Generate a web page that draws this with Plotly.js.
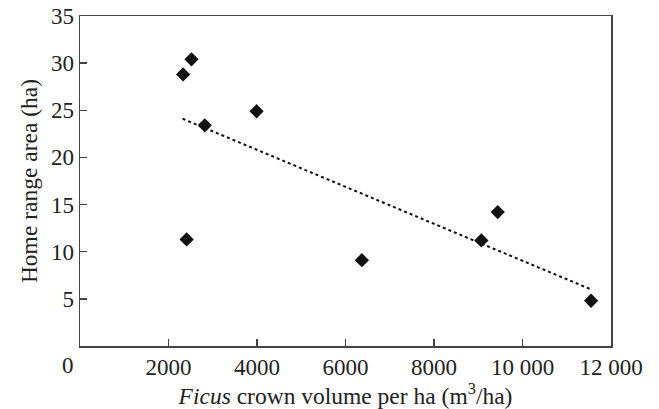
<!DOCTYPE html>
<html>
<head>
<meta charset="utf-8">
<script src="https://cdn.plot.ly/plotly-3.0.1.min.js"></script>
<style>html,body{margin:0;padding:0;background:#fff;}#chart{width:659px;height:409px;}</style>
</head>
<body>
<div id="chart"></div>
<script>
// Ficus crown volume per ha (m3/ha)
const crownVolume = [2330, 2520, 2820, 3990, 2410, 6370, 9070, 9440, 11550];
// Home range area (ha)
const homeRange = [28.8, 30.4, 23.4, 24.9, 11.3, 9.1, 11.2, 14.2, 4.8];
// Trend line endpoints
const trendX = [2320, 11550];
const trendY = [24.1, 6.0];
const xTickVals = [2000, 4000, 6000, 8000, 10000, 12000];
const xTickText = ['2000', '4000', '6000', '8000', '10 000', '12 000'];
const yTickVals = [5, 10, 15, 20, 25, 30, 35];
const yTickText = ['5', '10', '15', '20', '25', '30', '35'];

const FONT = 'Liberation Serif, Times New Roman, serif';
const axisColor = '#444';
const TICK_SIZE = 23;
const TITLE_SIZE = 23.5;

const traces = [
  {
    x: trendX, y: trendY, mode: 'lines', type: 'scatter',
    line: {color: '#111', width: 2, dash: 'dot'}, hoverinfo: 'skip', showlegend: false
  },
  {
    x: crownVolume, y: homeRange, mode: 'markers', type: 'scatter',
    marker: {symbol: 'diamond', size: 11, color: '#111'}, showlegend: false
  }
];

const layout = {
  width: 659, height: 409,
  margin: {l: 80, r: 48, t: 16, b: 63},
  paper_bgcolor: '#fff', plot_bgcolor: '#fff',
  font: {family: FONT, size: TICK_SIZE, color: '#222'},
  showlegend: false,
  xaxis: {
    range: [0, 12000], tickvals: xTickVals, ticktext: xTickText,
    ticks: 'inside', ticklen: 7, tickwidth: 1.5, tickcolor: axisColor,
    showline: true, linecolor: axisColor, linewidth: 1.5, mirror: true,
    showgrid: false, zeroline: false, fixedrange: true, automargin: false,
    tickfont: {family: FONT, size: TICK_SIZE, color: '#222'},
    title: {text: '<i>Ficus</i> crown volume per ha (m<sup>3</sup>/ha)', font: {family: FONT, size: TITLE_SIZE, color: '#222'}, standoff: 4}
  },
  yaxis: {
    range: [0, 35], tickvals: yTickVals, ticktext: yTickText,
    ticks: 'inside', ticklen: 7, tickwidth: 1.5, tickcolor: axisColor,
    showline: true, linecolor: axisColor, linewidth: 1.5, mirror: true,
    showgrid: false, zeroline: false, fixedrange: true, automargin: false,
    tickfont: {family: FONT, size: TICK_SIZE, color: '#222'},
    title: {text: 'Home range area (ha)', font: {family: FONT, size: TITLE_SIZE, color: '#222'}, standoff: 6}
  },
  annotations: [
    {text: '0', xref: 'paper', yref: 'paper', x: 0, y: 0, xanchor: 'center', yanchor: 'top',
     xshift: -12, yshift: -5, showarrow: false, font: {family: FONT, size: TICK_SIZE, color: '#222'}}
  ]
};

Plotly.newPlot('chart', traces, layout, {displayModeBar: false, staticPlot: true});
</script>
</body>
</html>
